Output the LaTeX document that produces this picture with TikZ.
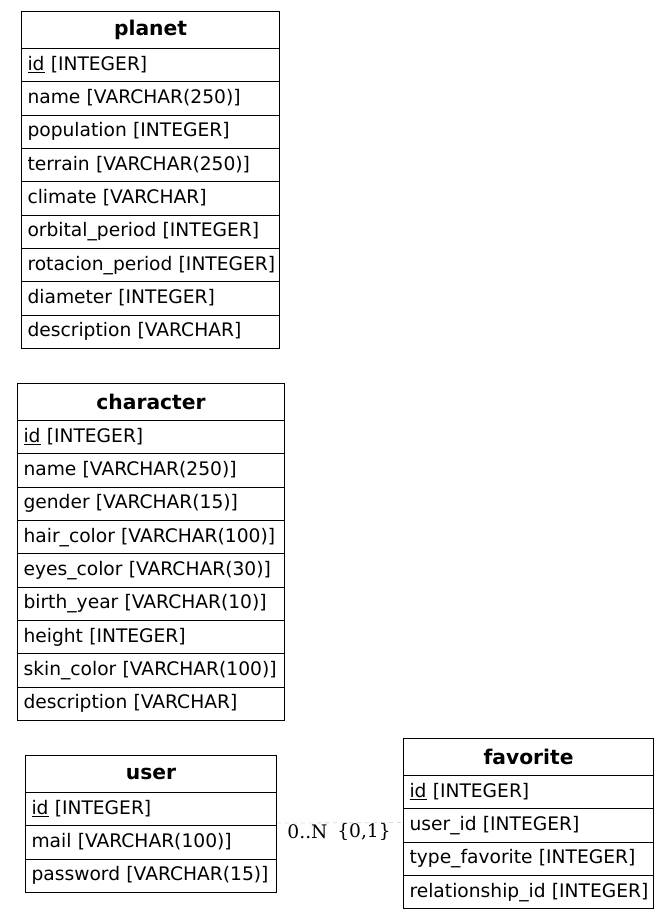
\documentclass[tikz,border=0pt]{standalone}
\usepackage{fontspec}
\setmainfont{DejaVu Sans}
\newfontfamily\lblfont{DejaVu Serif}
\tikzset{
  hdr/.style={draw, line width=0.8pt, font=\fontsize{15.2pt}{17pt}\selectfont\bfseries, inner sep=0pt, minimum height=37*0.75pt, anchor=north west},
  rowc/.style={draw, line width=0.8pt, font=\fontsize{14pt}{16pt}\selectfont, inner xsep=6*0.75pt, inner ysep=0pt, minimum height=33.33*0.75pt, align=left, text height=10.5pt, text depth=3pt, anchor=north west},
  conn/.style={draw=gray!30, line width=0.6pt, dashed},
  lbl/.style={font=\lblfont\fontsize{14pt}{16pt}\selectfont, inner sep=0pt}
}
% #1 name, #2 left, #3 top, #4 width, #5 title, #6 rows
\newcommand{\erdtab}[6]{%
  \node[hdr, minimum width=#4*0.75pt] (#1) at (#2,#3) {#5};
  \pgfmathsetmacro\erdtw{(#4-12)*0.75}
  \foreach \t [count=\i] in {#6} {
    \node[rowc, text width=\erdtw pt] (#1-\i) at (#2,{#3+37+(\i-1)*33.33}) {\mbox{\t}};
  }
}
\begin{document}
\begin{tikzpicture}[x=0.75pt, y=-0.75pt]
\useasboundingbox (0,0) rectangle (669,919);
\erdtab{planet}{21}{11}{258}{planet}{{\underline{id} [INTEGER]},{name [VARCHAR(250)]},{population [INTEGER]},{terrain [VARCHAR(250)]},{climate [VARCHAR]},{orbital\_period [INTEGER]},{rotacion\_period [INTEGER]},{diameter [INTEGER]},{description [VARCHAR]}}
\erdtab{character}{17}{383}{267}{character}{{\underline{id} [INTEGER]},{name [VARCHAR(250)]},{gender [VARCHAR(15)]},{hair\_color [VARCHAR(100)]},{eyes\_color [VARCHAR(30)]},{birth\_year [VARCHAR(10)]},{height [INTEGER]},{skin\_color [VARCHAR(100)]},{description [VARCHAR]}}
\erdtab{user}{25}{755}{251}{user}{{\underline{id} [INTEGER]},{mail [VARCHAR(100)]},{password [VARCHAR(15)]}}
\erdtab{favorite}{403}{738}{250}{favorite}{{\underline{id} [INTEGER]},{user\_id [INTEGER]},{type\_favorite [INTEGER]},{relationship\_id [INTEGER]}}
\draw[conn] ([yshift=2.5pt]user-1.south east) -- ([yshift=2.25pt]favorite-2.west);
\node[lbl] (lblA) at (307.5,832) {0..N};
\node[lbl] (lblB) at (364,832) {\{0,1\}};
\end{tikzpicture}
\end{document}
